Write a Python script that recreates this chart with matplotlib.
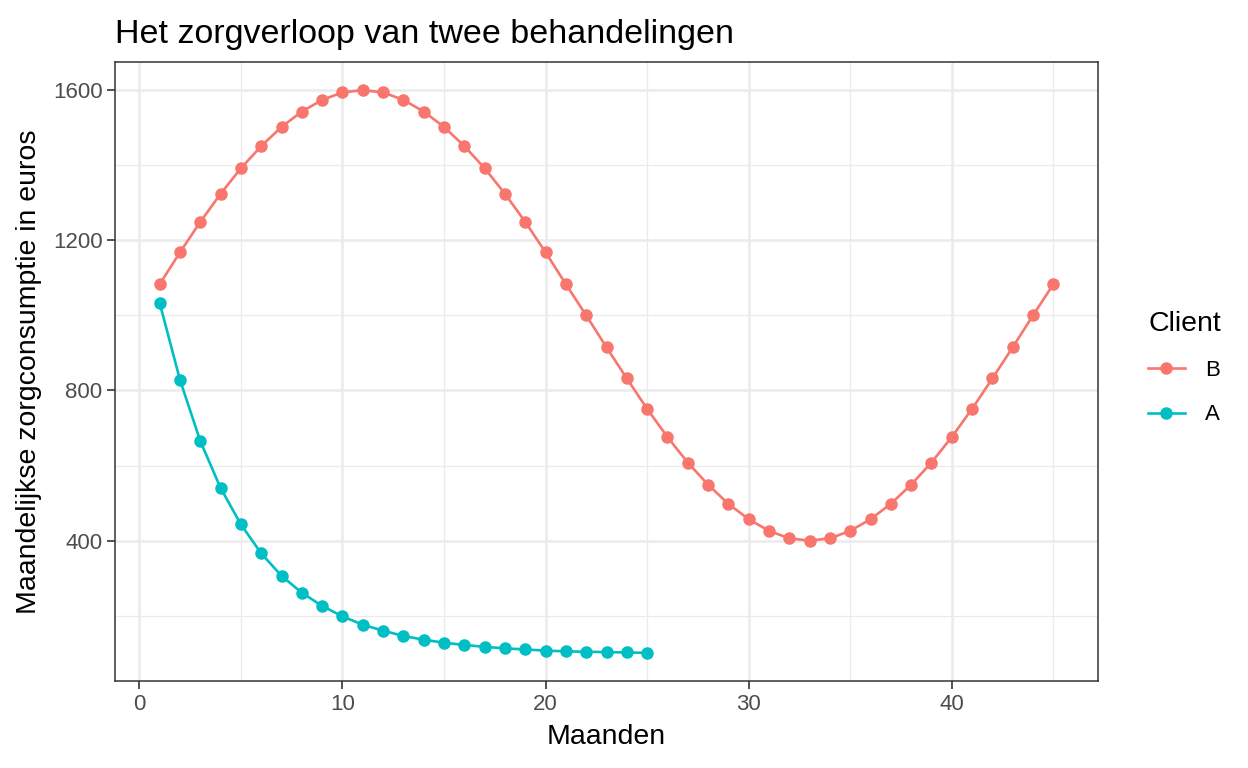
import matplotlib.pyplot as plt
from matplotlib.lines import Line2D

plt.rcParams["font.family"] = ["Liberation Sans", "DejaVu Sans"]

# data
months_b = list(range(1, 46))
care_b = [1083, 1168, 1249, 1324, 1392, 1451, 1502, 1543, 1574, 1594,
          1600, 1594, 1574, 1543, 1502, 1451, 1392, 1324, 1249, 1168,
          1083, 1000, 915, 832, 751, 676, 608, 549, 498, 457,
          426, 406, 400, 406, 426, 457, 498, 549, 608, 676,
          751, 832, 915, 1000, 1083]

months_a = list(range(1, 26))
care_a = [1033, 828, 665, 540, 443, 366, 306, 261, 226, 198,
          176, 160, 146, 136, 128, 122, 117, 113, 110, 107,
          105, 104, 103, 102, 101]

col_b = "#F8766D"
col_a = "#00BFC4"

fig = plt.figure(figsize=(12.48, 7.68), dpi=100)
ax = fig.add_axes([115 / 1248, 1 - 681 / 768, 983 / 1248, 619 / 768])

ax.plot(months_b, care_b, color=col_b, lw=1.9, marker="o", ms=8, zorder=3)
ax.plot(months_a, care_a, color=col_a, lw=1.9, marker="o", ms=8, zorder=3)

ax.set_xlim(-1.2, 47.2)
ax.set_ylim(26, 1675)
ax.set_xticks([0, 10, 20, 30, 40])
ax.set_yticks([400, 800, 1200, 1600])
ax.set_xticks([5, 15, 25, 35, 45], minor=True)
ax.set_yticks([200, 600, 1000, 1400], minor=True)
ax.grid(which="major", color="#EBEBEB", lw=1.8, zorder=0)
ax.grid(which="minor", color="#EBEBEB", lw=0.9, zorder=0)
ax.set_axisbelow(True)
ax.tick_params(which="minor", length=0)
ax.tick_params(which="major", length=6, width=1.2, color="#333333",
               labelcolor="#4D4D4D", labelsize=16, pad=3)
for s in ax.spines.values():
    s.set_color("#333333")
    s.set_linewidth(1.1)

ax.set_xlabel("Maanden", fontsize=20.5, labelpad=7)
ax.set_ylabel("Maandelijkse zorgconsumptie in euros", fontsize=20.5, labelpad=8)
ax.set_title("Het zorgverloop van twee behandelingen", fontsize=24.5,
             loc="left", x=0, pad=14)

handles = [Line2D([], [], color=col_b, lw=1.9, marker="o", ms=8),
           Line2D([], [], color=col_a, lw=1.9, marker="o", ms=8)]
leg = fig.legend(handles, ["B", "A"], title="Client", loc="center left",
                 bbox_to_anchor=(1128 / 1248, 1 - 368 / 768), frameon=False,
                 fontsize=16, title_fontsize=20.5, handlelength=1.65,
                 handletextpad=0.9, labelspacing=1.05, alignment="left")

fig.savefig("out.png", dpi=100)
